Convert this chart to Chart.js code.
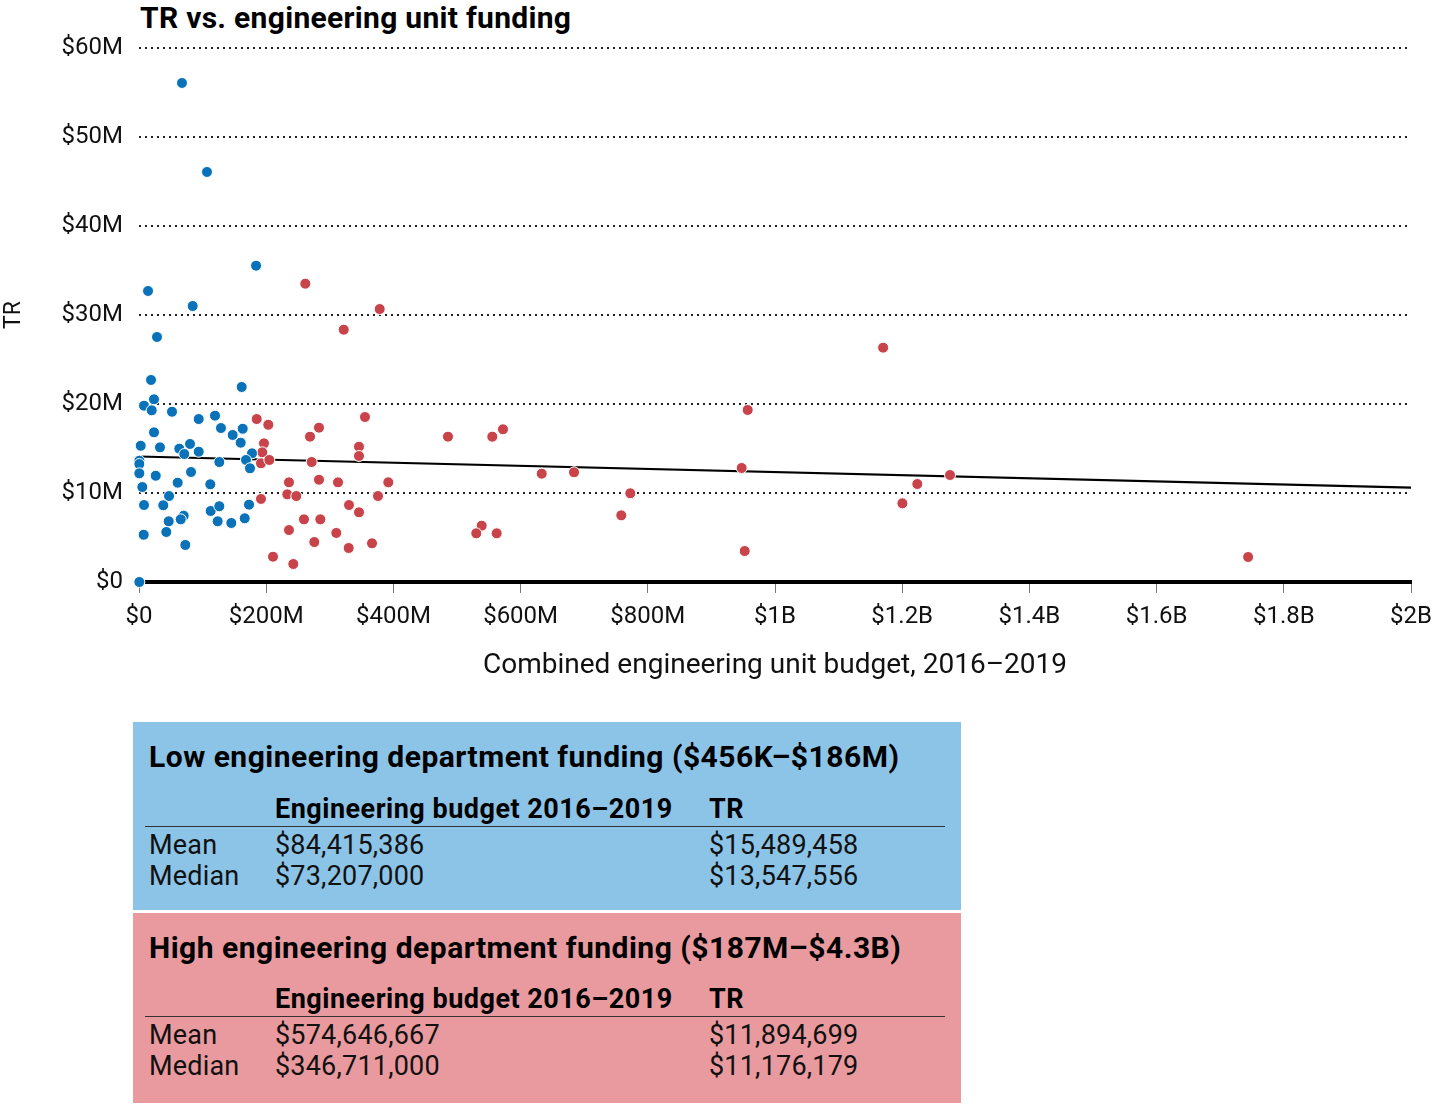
<!DOCTYPE html>
<html>
<head>
<meta charset="utf-8">
<script src="https://cdn.jsdelivr.net/npm/chart.js@4.4.1/dist/chart.umd.min.js"></script>
<style>
  body { margin: 0; background: #fff; font-family: Roboto, "Noto Sans", sans-serif; color: #111; }
  #wrap { position: relative; width: 1435px; height: 1107px; }
  #title { position: absolute; left: 140px; top: 0px; font-size: 30px; font-weight: 700; letter-spacing: 0.3px; color: #000; }
  canvas { position: absolute; left: 0; top: 0; }
  .box { position: absolute; left: 133px; width: 828px; }
  .box span { position: absolute; white-space: nowrap; line-height: 30px; }
  .head { font-size: 30px; font-weight: 700; letter-spacing: 0.5px; color: #000; }
  .colh { font-size: 27px; font-weight: 700; letter-spacing: 0.5px; color: #000; }
  .cell { font-size: 27px; letter-spacing: 0.2px; color: #111; }
  .rule { position: absolute; left: 12px; width: 800px; height: 1px; background: #333; }
</style>
</head>
<body>
<div id="wrap">
  <div id="title">TR vs. engineering unit funding</div>
  <canvas id="grafico" width="1435" height="700"></canvas>

  <div class="box" style="top:722px; height:188px; background:#8cc4e8;">
    <span class="head" style="left:16px; top:20px;">Low engineering department funding ($456K–$186M)</span>
    <span class="colh" style="left:142px; top:72px;">Engineering budget 2016–2019</span>
    <span class="colh" style="left:576px; top:72px;">TR</span>
    <div class="rule" style="top:104px;"></div>
    <span class="cell" style="left:16px; top:108px;">Mean</span>
    <span class="cell" style="left:142px; top:108px;">$84,415,386</span>
    <span class="cell" style="left:576px; top:108px;">$15,489,458</span>
    <span class="cell" style="left:16px; top:139px;">Median</span>
    <span class="cell" style="left:142px; top:139px;">$73,207,000</span>
    <span class="cell" style="left:576px; top:139px;">$13,547,556</span>
  </div>

  <div class="box" style="top:913px; height:190px; background:#e99a9e;">
    <span class="head" style="left:16px; top:20px;">High engineering department funding ($187M–$4.3B)</span>
    <span class="colh" style="left:142px; top:71px;">Engineering budget 2016–2019</span>
    <span class="colh" style="left:576px; top:71px;">TR</span>
    <div class="rule" style="top:103px;"></div>
    <span class="cell" style="left:16px; top:107px;">Mean</span>
    <span class="cell" style="left:142px; top:107px;">$574,646,667</span>
    <span class="cell" style="left:576px; top:107px;">$11,894,699</span>
    <span class="cell" style="left:16px; top:138px;">Median</span>
    <span class="cell" style="left:142px; top:138px;">$346,711,000</span>
    <span class="cell" style="left:576px; top:138px;">$11,176,179</span>
  </div>
</div>

<script>
// datos (millones de dolares)
const blueX = [67.6, 106.9, 184.1, 14.2, 84.4, 28.3, 18.9, 161.5, 23.6, 7.9, 20.0, 51.9, 93.9, 119.5, 128.9, 163.1, 147.3, 23.6, 159.9, 2.7, 33.0, 63.4, 80.2, 71.2, 93.9, 177.7, 0.5, 0.5, 126.3, 168.2, 174.5, 0.5, 26.3, 81.8, 60.8, 112.1, 5.2, 47.2, 7.9, 38.2, 173.0, 112.7, 126.3, 70.3, 65.6, 46.7, 123.7, 145.1, 166.2, 42.9, 7.4, 72.8, 0.5]
const blueY = [56.07, 46.07, 35.54, 32.70, 31.01, 27.53, 22.70, 21.91, 20.53, 19.81, 19.29, 19.13, 18.31, 18.69, 17.30, 17.22, 16.52, 16.82, 15.65, 15.31, 15.13, 14.98, 15.51, 14.38, 14.64, 14.46, 13.63, 13.26, 13.48, 13.71, 12.78, 12.21, 11.94, 12.36, 11.16, 10.98, 10.67, 9.66, 8.65, 8.62, 8.69, 7.98, 8.51, 7.45, 7.04, 6.82, 6.82, 6.63, 7.16, 5.62, 5.31, 4.16, 0]

const redX = [261.5, 378.5, 321.9, 185.1, 203.3, 355.3, 283.0, 268.9, 345.9, 345.9, 196.5, 193.9, 191.8, 204.9, 271.5, 283.0, 312.9, 235.8, 392.0, 233.2, 247.3, 375.8, 191.8, 330.2, 345.9, 259.4, 285.1, 235.8, 310.2, 275.6, 329.7, 366.4, 210.7, 242.6, 957.1, 485.8, 555.5, 572.3, 633.2, 684.0, 947.6, 772.5, 758.3, 538.8, 530.3, 562.4, 952.4, 1170, 1275.2, 1223.7, 1200.3, 1743.9]
const redY = [33.52, 30.67, 28.35, 18.31, 17.67, 18.54, 17.34, 16.33, 15.20, 14.16, 15.58, 14.57, 13.34, 13.71, 13.48, 11.49, 11.20, 11.20, 11.20, 9.85, 9.66, 9.66, 9.33, 8.65, 7.83, 7.04, 7.04, 5.84, 5.51, 4.49, 3.82, 4.35, 2.84, 2.02, 19.33, 16.33, 16.33, 17.16, 12.17, 12.33, 12.81, 9.97, 7.49, 6.33, 5.47, 5.47, 3.48, 26.33, 12.02, 11.01, 8.84, 2.81]

// linea de tendencia
const trendX = [0, 2000]
const trendY = [14.1, 10.6]

const yTicks = [0, 10, 20, 30, 40, 50, 60]

const puntos = (xs, ys) => xs.map((x, i) => ({ x: x, y: ys[i] }))

function etiquetaX(v) {
    if (v == 0) return '$0'
    if (v < 1000) return '$' + v + 'M'
    return '$' + (v / 1000) + 'B'
}

const ctx = document.getElementById('grafico').getContext('2d')

let chart = new Chart(ctx, {
    type: 'scatter',
    data: {
        datasets: [
            {
                label: 'Tendencia',
                data: puntos(trendX, trendY),
                showLine: true,
                borderColor: '#000',
                borderWidth: 2.2,
                pointRadius: 0,
                clip: false,
                order: 3
            },
            {
                label: 'Low',
                data: puntos(blueX, blueY),
                backgroundColor: '#0a72b8',
                borderColor: '#fff',
                borderWidth: 1,
                pointRadius: 5.5,
                clip: false,
                order: 1
            },
            {
                label: 'High',
                data: puntos(redX, redY),
                backgroundColor: '#c9444a',
                borderColor: '#fff',
                borderWidth: 1,
                pointRadius: 5.5,
                clip: false,
                order: 2
            }
        ]
    },
    options: {
        responsive: false,
        animation: false,
        layout: { padding: { top: 48, right: 24, left: 0, bottom: 0 } },
        plugins: {
            legend: { display: false },
            tooltip: { enabled: false }
        },
        scales: {
            x: {
                type: 'linear',
                min: 0,
                max: 2000,
                afterFit: s => { s.height = 118; s.paddingLeft = 0; s.paddingRight = 0 },
                ticks: {
                    stepSize: 200,
                    callback: etiquetaX,
                    color: '#111',
                    font: { family: 'Roboto', size: 24 },
                    padding: 10,
                    maxRotation: 0
                },
                grid: {
                    drawOnChartArea: false,
                    drawTicks: true,
                    tickLength: 11,
                    tickColor: '#777',
                    tickWidth: 1
                },
                border: { display: true, color: '#000', width: 4 },
                title: {
                    display: true,
                    text: 'Combined engineering unit budget, 2016–2019',
                    color: '#111',
                    font: { family: 'Roboto', size: 28 },
                    padding: { top: 8, bottom: 17 }
                }
            },
            y: {
                min: 0,
                max: 60,
                afterFit: s => { s.width = 139 },
                afterBuildTicks: s => { s.ticks = yTicks.map(v => ({ value: v })) },
                ticks: {
                    callback: v => v == 0 ? '$0' : '$' + v + 'M',
                    color: '#111',
                    font: { family: 'Roboto', size: 24 },
                    padding: 16
                },
                grid: {
                    drawTicks: false,
                    color: c => c.tick && c.tick.value == 0 ? 'rgba(0,0,0,0)' : '#222',
                    lineWidth: 2
                },
                border: { display: false, dash: [2, 4] },
                title: {
                    display: true,
                    text: 'TR',
                    color: '#111',
                    font: { family: 'Roboto', size: 23 },
                    padding: 0
                }
            }
        }
    }
})
</script>
</body>
</html>
